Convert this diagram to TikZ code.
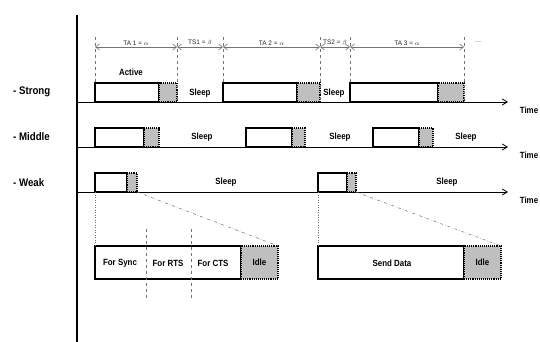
\documentclass[tikz,border=0pt]{standalone}
\usepackage{fontspec}
\setmainfont{Liberation Sans}
\newfontfamily\condfont[FakeStretch=0.88]{Liberation Sans}
\usetikzlibrary{arrows.meta}

\begin{document}
\begin{tikzpicture}[x=1pt,y=-1pt,
	actbox/.style={draw,line width=1.1pt,fill=white,inner sep=0pt,outer sep=0pt,minimum height=19pt,anchor=south west},
	idlebox/.style={draw,densely dotted,line width=1.1pt,fill=black!25,inner sep=0pt,outer sep=0pt,minimum height=19pt,anchor=south west},
	axis/.style={line width=0.8pt,-{Straight Barb[length=5pt,width=6pt]}},
	tick/.style={dashed,black!55,line width=0.6pt},
	dim/.style={black!55,line width=0.6pt,{Straight Barb[length=4pt,width=6pt]}-{Straight Barb[length=4pt,width=6pt]}},
	dimlab/.style={above=0pt,inner sep=1.5pt,font=\fontsize{6.5}{7}\selectfont,text=black!85},
	lab/.style={inner sep=0pt,font=\condfont\bfseries\fontsize{9}{10}\selectfont},
	row/.style={inner sep=0pt,anchor=west,font=\condfont\bfseries\fontsize{11}{12}\selectfont},
	zoomline/.style={black!55,line width=0.5pt}]
	\useasboundingbox (0,0) rectangle (540,342);

	\draw[line width=1.2pt] (77,15) -- (77,342);

	\node[row] (strong) at (13,92) {- Strong};
	\node[row] (middle) at (13,137) {- Middle};
	\node[row] (weak) at (13,183) {- Weak};

	% strong
	\node[actbox,minimum width=64pt] (s1) at (95,102) {};
	\node[idlebox,minimum width=18pt] (s1i) at (s1.south east) {};
	\node[actbox,minimum width=74pt] (s2) at (223,102) {};
	\node[idlebox,minimum width=23pt] (s2i) at (s2.south east) {};
	\node[actbox,minimum width=88pt] (s3) at (350,102) {};
	\node[idlebox,minimum width=26pt] (s3i) at (s3.south east) {};
	\coordinate (sa) at (77,102);
	\coordinate (sb) at (508,102);
	\draw[axis] (sa) -- (sb);
	\node[lab] (stime) at (529,110) {Time};
	\node[lab] (active) at (131,72) {Active};
	\node[lab] (ssl1) at (200,93) {Sleep};
	\node[lab] (ssl2) at (334,93) {Sleep};

	% middle
	\node[actbox,minimum width=49pt] (m1) at (95,147) {};
	\node[idlebox,minimum width=15pt] (m1i) at (m1.south east) {};
	\node[actbox,minimum width=46pt] (m2) at (246,147) {};
	\node[idlebox,minimum width=13pt] (m2i) at (m2.south east) {};
	\node[actbox,minimum width=46pt] (m3) at (373,147) {};
	\node[idlebox,minimum width=14pt] (m3i) at (m3.south east) {};
	\coordinate (ma) at (77,147);
	\coordinate (mb) at (508,147);
	\draw[axis] (ma) -- (mb);
	\node[lab] (mtime) at (529,155) {Time};
	\node[lab] (msl1) at (202,137) {Sleep};
	\node[lab] (msl2) at (340,137) {Sleep};
	\node[lab] (msl3) at (466,137) {Sleep};

	% weak
	\node[actbox,minimum width=32pt] (w1) at (95,192) {};
	\node[idlebox,minimum width=10pt] (w1i) at (w1.south east) {};
	\node[actbox,minimum width=29pt] (w2) at (318,192) {};
	\node[idlebox,minimum width=9pt] (w2i) at (w2.south east) {};
	\coordinate (wa) at (77,192);
	\coordinate (wb) at (508,192);
	\draw[axis] (wa) -- (wb);
	\node[lab] (wtime) at (529,200) {Time};
	\node[lab] (wsl1) at (226,182) {Sleep};
	\node[lab] (wsl2) at (447,182) {Sleep};

	% periods
	\coordinate (k0) at (95,37);
	\coordinate (k1) at (177,37);
	\coordinate (k2) at (223,37);
	\coordinate (k3) at (320,37);
	\coordinate (k4) at (350,37);
	\coordinate (k5) at (464,37);
	\draw[tick] (k0) -- (s1.north west);
	\draw[tick] (k1) -- (s1i.south east);
	\draw[tick] (k2) -- (s2.north west);
	\draw[tick] (k3) -- (s2i.south east);
	\draw[tick] (k4) -- (s3.north west);
	\draw[tick] (k5) -- (s3i.south east);
	\coordinate (a0) at (95,47);
	\coordinate (a1) at (177,47);
	\coordinate (a2) at (223,47);
	\coordinate (a3) at (320,47);
	\coordinate (a4) at (350,47);
	\coordinate (a5) at (464,47);
	\draw[dim] (a0) -- node[dimlab] (ta1) {TA 1 = $\alpha$} (a1);
	\draw[dim] (a1) -- node[dimlab] (ts1) {TS1 = $\beta$} (a2);
	\draw[dim] (a2) -- node[dimlab] (ta2) {TA 2 = $\alpha$} (a3);
	\draw[dim] (a3) -- node[dimlab] (ts2) {TS2 = $\beta$} (a4);
	\draw[dim] (a4) -- node[dimlab] (ta3) {TA 3 = $\alpha$} (a5);
	\node[dimlab,above=0pt] (more) at (478,44) {\dots};

	% detail
	\node[actbox,minimum width=146pt,minimum height=33pt,anchor=north west] (d1) at (95,246) {};
	\node[idlebox,minimum width=37pt,minimum height=33pt,anchor=north west] (d1i) at (d1.north east) {};
	\node[actbox,minimum width=146pt,minimum height=33pt,anchor=north west] (d2) at (318,246) {};
	\node[idlebox,minimum width=37pt,minimum height=33pt,anchor=north west] (d2i) at (d2.north east) {};
	\coordinate (c1) at (146,229);
	\coordinate (c1b) at (146,300);
	\coordinate (c2) at (191,229);
	\coordinate (c2b) at (191,300);
	\draw[tick] (c1) -- (c1b);
	\draw[tick] (c2) -- (c2b);
	\node[lab] (sync) at (120,263) {For Sync};
	\node[lab] (rts) at (168,263) {For RTS};
	\node[lab] (cts) at (213,263) {For CTS};
	\node[lab] (idle1) at (d1i.center) {Idle};
	\node[lab] (send) at (392,263) {Send Data};
	\node[lab] (idle2) at (d2i.center) {Idle};
	\draw[zoomline,dotted] (w1.south west) -- (d1.north west);
	\draw[zoomline,dash dot] (w1i.south east) -- (d1i.north east);
	\draw[zoomline,dotted] (w2.south west) -- (d2.north west);
	\draw[zoomline,dash dot] (w2i.south east) -- (d2i.north east);
\end{tikzpicture}
\end{document}
